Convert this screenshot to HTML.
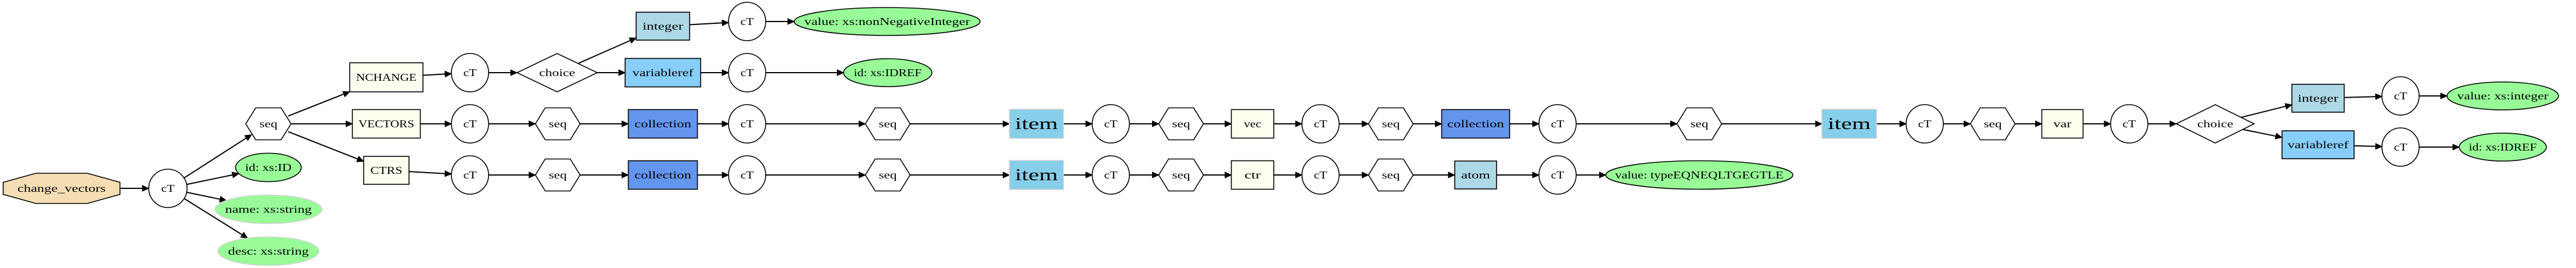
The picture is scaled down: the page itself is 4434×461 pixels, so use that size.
<!DOCTYPE html>
<html><head><meta charset="utf-8"><style>
html,body{margin:0;padding:0;background:#fff;}
svg{display:block;}
text{font-family:"Liberation Serif",serif;}
</style></head><body>
<svg id="g" width="4434" height="461" viewBox="0 0 4434 461" xmlns="http://www.w3.org/2000/svg"></svg>
<script>
const nodeIds=['root','c0','s0','aid','aname','adesc','nch','vecs','ctrs','c1','c2','c3','ch1','s1','s2','int1','vr1','col1','col2','c4','c5','c6','c7','v1','idr1','s3','s4','it1','it2','c8','c9','s5','s6','vec','ctr','c10','c11','s7','s8','col3','atom','c12','c13','s9','vte','it3','c14','s10','var','c15','ch2','int2','vr2','c16','c17','vint','idr2'];
const nodeShapes=['oct','ell','hex','ell','ell','ell','rect','rect','rect','ell','ell','ell','dia','hex','hex','rect','rect','rect','rect','ell','ell','ell','ell','ell','ell','hex','hex','rect','rect','ell','ell','hex','hex','rect','rect','ell','ell','hex','hex','rect','rect','ell','ell','hex','ell','rect','ell','hex','rect','ell','dia','rect','rect','ell','ell','ell','ell'];
const nodeX=[106,289,462,462,462,462,665,665,665,809,809,809,959,960,960,1141,1141,1141,1141,1286,1286,1286,1286,1527,1528,1528,1528,1784,1784,1912,1912,2033,2033,2156,2156,2273,2273,2394,2394,2540,2540,2681,2681,2925,2925,3183,3313,3430,3550,3665,3813,3990,3990,4132,4132,4308,4308];
const nodeY=[324,324,213,288,360,432,133,213,293,125,213,301,125,213,301,45,125,213,301,37,125,213,301,37,125,213,301,213,301,213,301,213,301,213,301,213,301,213,301,213,301,213,301,213,301,213,213,213,213,213,213,169,249,165,253,165,253];
const nodeW=[201,66,78,113,184,174,126,117,78,64,64,64,138,77,77,92,130,119,119,64,64,64,64,320,152,77,77,93,93,64,64,77,77,73,73,64,64,77,77,117,72,64,64,77,322,94,64,77,71,64,134,90,124,64,64,192,150];
const nodeH=[52,66,55,49,49,49,50,49,48,66,66,66,66,55,55,48,49,49,49,66,66,66,66,48,48,55,55,50,50,66,66,55,55,49,49,66,66,55,55,49,48,66,66,55,49,50,66,55,49,66,66,48,48,66,66,48,48];
const nodeLabels=['change_vectors','cT','seq','id: xs:ID','name: xs:string','desc: xs:string','NCHANGE','VECTORS','CTRS','cT','cT','cT','choice','seq','seq','integer','variableref','collection','collection','cT','cT','cT','cT','value: xs:nonNegativeInteger','id: xs:IDREF','seq','seq','item','item','cT','cT','seq','seq','vec','ctr','cT','cT','seq','seq','collection','atom','cT','cT','seq','value: typeEQNEQLTGEGTLE','item','cT','seq','var','cT','choice','integer','variableref','cT','cT','value: xs:integer','id: xs:IDREF'];
const textW=[152,23,31,80,149,139,104,96,55,23,23,23,62,31,31,70,105,98,98,23,23,23,23,285,117,31,31,74,74,23,23,31,31,30,28,23,23,31,31,98,50,23,23,31,290,74,23,31,31,23,62,70,105,23,23,157,117];
const nodeFill={root:'#f5deb3',aid:'#98fb98',aname:'#98fb98',adesc:'#98fb98',nch:'#fffff0',vecs:'#fffff0',ctrs:'#fffff0',int1:'#add8e6',vr1:'#87cefa',col1:'#6495ed',col2:'#6495ed',v1:'#98fb98',idr1:'#98fb98',it1:'#87ceeb',it2:'#87ceeb',vec:'#fffff0',ctr:'#fffff0',col3:'#6495ed',atom:'#add8e6',vte:'#98fb98',it3:'#87ceeb',var:'#fffff0',int2:'#add8e6',vr2:'#87cefa',vint:'#98fb98',idr2:'#98fb98'};
const lightStroke=['aname','adesc','it1','it2','it3'];
const edgeFrom=['root','c0','c0','c0','c0','s0','s0','s0','nch','vecs','ctrs','c1','c2','c3','ch1','ch1','s1','s2','int1','vr1','col1','col2','c4','c5','c6','c7','s3','s4','it1','it2','c8','c9','s5','s6','vec','ctr','c10','c11','s7','s8','col3','atom','c12','c13','s9','it3','c14','s10','var','c15','ch2','ch2','int2','vr2','c16','c17'];
const edgeTo=['c0','s0','aid','aname','adesc','nch','vecs','ctrs','c1','c2','c3','ch1','s1','s2','int1','vr1','col1','col2','c4','c5','c6','c7','v1','idr1','s3','s4','it1','it2','c8','c9','s5','s6','vec','ctr','c10','c11','s7','s8','col3','atom','c12','c13','s9','vte','it3','c14','s10','var','c15','ch2','int2','vr2','c16','c17','vint','idr2'];

const NS='http://www.w3.org/2000/svg';
const svg=document.getElementById('g');
const idx={};nodeIds.forEach((id,i)=>idx[id]=i);
function mk(tag,attrs){const e=document.createElementNS(NS,tag);for(const k in attrs)e.setAttribute(k,attrs[k]);return e;}
function clip(i,dx,dy){
  const hw=nodeW[i]/2,hh=nodeH[i]/2,s=nodeShapes[i];
  let t;
  if(s==='rect'){t=Math.min(dx?hw/Math.abs(dx):1e9,dy?hh/Math.abs(dy):1e9);}
  else if(s==='dia'){t=1/(Math.abs(dx)/hw+Math.abs(dy)/hh);}
  else{t=1/Math.sqrt((dx/hw)**2+(dy/hh)**2);}
  return [nodeX[i]+dx*t,nodeY[i]+dy*t];
}
// edges
edgeFrom.forEach((f,k)=>{
  const a=idx[f],b=idx[edgeTo[k]];
  const dx=nodeX[b]-nodeX[a],dy=nodeY[b]-nodeY[a];
  const p=clip(a,dx,dy),q=clip(b,-dx,-dy);
  const L=Math.hypot(q[0]-p[0],q[1]-p[1]),ux=(q[0]-p[0])/L,uy=(q[1]-p[1])/L;
  const bx=q[0]-ux*11,by=q[1]-uy*11;
  const g=mk('g',{});
  
  
  g.appendChild(mk('line',{x1:p[0],y1:p[1],x2:bx,y2:by,stroke:'#000','stroke-width':2}));
  g.appendChild(mk('polygon',{points:`${q[0]},${q[1]} ${bx-uy*5},${by+ux*5} ${bx+uy*5},${by-ux*5}`,fill:'#000',stroke:'#000'}));
  svg.appendChild(g);
});
// nodes
nodeIds.forEach((id,i)=>{
  const x=nodeX[i],y=nodeY[i],w=nodeW[i],h=nodeH[i],s=nodeShapes[i];
  const fill=nodeFill[id]||'#fff',stroke=lightStroke.includes(id)?'#d3d3d3':'#000';
  const g=mk('g',{});
  
  
  let sh;
  const a={fill:fill,stroke:stroke,'stroke-width':1.6};
  if(s==='ell'){sh=mk('ellipse',Object.assign({cx:x,cy:y,rx:w/2,ry:h/2},a));}
  else if(s==='rect'){sh=mk('rect',Object.assign({x:x-w/2,y:y-h/2,width:w,height:h},a));}
  else if(s==='dia'){sh=mk('polygon',Object.assign({points:`${x-w/2},${y} ${x},${y-h/2} ${x+w/2},${y} ${x},${y+h/2}`},a));}
  else if(s==='hex'){const q=w*0.22;sh=mk('polygon',Object.assign({points:`${x-w/2},${y} ${x-w/2+q},${y-h/2} ${x+w/2-q},${y-h/2} ${x+w/2},${y} ${x+w/2-q},${y+h/2} ${x-w/2+q},${y+h/2}`},a));}
  else {const q=w*0.28,r=h*0.3;sh=mk('polygon',Object.assign({points:`${x-w/2},${y-h/2+r} ${x-w/2+q},${y-h/2} ${x+w/2-q},${y-h/2} ${x+w/2},${y-h/2+r} ${x+w/2},${y+h/2-r} ${x+w/2-q},${y+h/2} ${x-w/2+q},${y+h/2} ${x-w/2},${y+h/2-r}`},a));}
  g.appendChild(sh);
  const big=nodeLabels[i]==='item';
  const t=mk('text',{x:x,y:y+(big?9:6),'text-anchor':'middle','font-size':big?28:18,textLength:textW[i],lengthAdjust:'spacingAndGlyphs',fill:'#000'});
  t.textContent=nodeLabels[i];
  g.appendChild(t);
  svg.appendChild(g);
});
</script>
</body></html>
